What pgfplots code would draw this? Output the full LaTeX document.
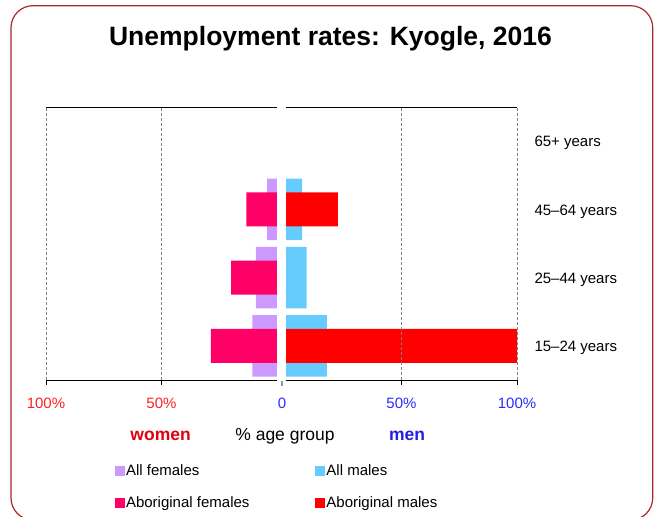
\documentclass[border=0pt]{standalone}
\usepackage{fontspec}
\setmainfont{Liberation Sans}
\usepackage{pgfplots}
\pgfplotsset{compat=1.18}
\definecolor{allf}{HTML}{CC99FF}
\definecolor{abf}{HTML}{FF0066}
\definecolor{allm}{HTML}{66CCFF}
\definecolor{abm}{HTML}{FF0000}
\definecolor{framec}{HTML}{A8282C}
\definecolor{wred}{HTML}{E00010}
\definecolor{mblue}{HTML}{2020E0}
\definecolor{tred}{HTML}{FF2020}
\definecolor{tblue}{HTML}{2A2AFF}
\pgfplotsset{
  pyr/.style={
    scale only axis, width=231bp, height=273bp,
    xbar, xmin=0, xmax=100, ymin=-0.5, ymax=3.5,
    separate axis lines,
    x axis line style={black, line width=1bp},
    y axis line style={draw=none},
    xtick={50,100}, xtick pos=left,
    tick align=outside, major tick length=5bp,
    xtick style={black, line width=0.8bp},
    xmajorgrids, major grid style={gray, densely dashed, line width=0.9bp},
    axis on top,
    xticklabel style={font=\fontsize{15bp}{18bp}\selectfont, anchor=base, yshift=-23.5bp},
  },
}
\begin{document}
\begin{tikzpicture}
\useasboundingbox (0,0) rectangle (660bp,-517bp);
\draw[framec, line width=1.2bp, rounded corners=22bp] (11bp,-5.7bp) rectangle (652.7bp,-520bp);
\node[anchor=base, font=\fontsize{26.5bp}{30bp}\selectfont\bfseries] at (330.5bp,-45bp) {Unemployment rates: Kyogle, 2016};

% women
\begin{axis}[pyr,
  at={(46bp,-380bp)}, anchor=south west,
  x dir=reverse, ytick=\empty,
  xticklabels={50\%,100\%},
  xticklabel style={tred},
  legend columns=2,
  legend cell align=left,
  legend style={draw=none, fill=none, at={(axis description cs:0.283,-0.30)}, anchor=north west,
    font=\fontsize{15bp}{18bp}\selectfont, row sep=17bp,
    /tikz/every even column/.append style={column sep=64bp},
    nodes={inner xsep=1.5bp, inner ysep=1bp}},
  legend image code/.code={\path[#1] (0bp,-5bp) rectangle (10bp,5bp);},
]
\addplot[fill=allf, draw=none, bar width=0.9, bar shift=0pt, forget plot] coordinates {(10.7,0) (9.1,1) (4.3,2)};
\addplot[fill=abf, draw=none, bar width=0.5, bar shift=0pt, forget plot] coordinates {(28.6,0) (19.9,1) (13.3,2)};
\addlegendimage{fill=allf, draw=none}
\addlegendentry{All females}
\addlegendimage{fill=allm, draw=none}
\addlegendentry{All males}
\addlegendimage{fill=abf, draw=none}
\addlegendentry{Aboriginal females}
\addlegendimage{fill=abm, draw=none}
\addlegendentry{Aboriginal males}
\end{axis}

% men
\begin{axis}[pyr,
  at={(286bp,-380bp)}, anchor=south west,
  xticklabels={50\%,100\%},
  xticklabel style={tblue},
  ytick={0,1,2,3},
  yticklabels={15--24 years,25--44 years,45--64 years,65+ years},
  yticklabel pos=right, ytick style={draw=none},
  yticklabel style={font=\fontsize{15bp}{18bp}\selectfont, anchor=west, xshift=9bp, yshift=-2bp},
]
\addplot[fill=allm, draw=none, bar width=0.9, bar shift=0pt] coordinates {(17.7,0) (8.9,1) (7.0,2)};
\addplot[fill=abm, draw=none, bar width=0.5, bar shift=0pt] coordinates {(100,0) (22.5,2)};
\end{axis}

\draw[gray!80, line width=2bp] (282bp,-381bp) -- (282bp,-386bp);
\node[anchor=base, tblue, font=\fontsize{15bp}{18bp}\selectfont] at (282bp,-408.5bp) {0};
\node[anchor=base, wred, font=\fontsize{17.5bp}{20bp}\selectfont\bfseries] at (160.6bp,-440bp) {women};
\node[anchor=base, font=\fontsize{17.5bp}{20bp}\selectfont] at (285bp,-440bp) {\% age group};
\node[anchor=base, mblue, font=\fontsize{17.5bp}{20bp}\selectfont\bfseries] at (407bp,-440bp) {men};
\end{tikzpicture}
\end{document}
